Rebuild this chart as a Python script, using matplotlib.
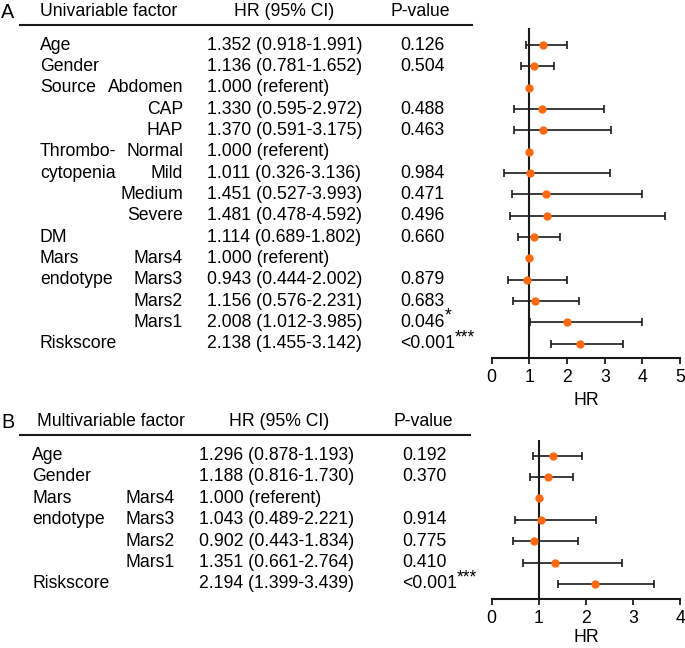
import matplotlib.pyplot as plt
import numpy as np
from matplotlib.transforms import blended_transform_factory

plt.rcParams['font.family'] = ['Liberation Sans', 'DejaVu Sans']

# ---------------- panel A: univariable ----------------
a_groups = ['Age', 'Gender', 'Source', '', '', 'Thrombo-', 'cytopenia', '', '',
            'DM', 'Mars', 'endotype', '', '', 'Riskscore']
a_levels = ['', '', 'Abdomen', 'CAP', 'HAP', 'Normal', 'Mild', 'Medium', 'Severe',
            '', 'Mars4', 'Mars3', 'Mars2', 'Mars1', '']
a_hr_text = ['1.352 (0.918-1.991)', '1.136 (0.781-1.652)', '1.000 (referent)',
             '1.330 (0.595-2.972)', '1.370 (0.591-3.175)', '1.000 (referent)',
             '1.011 (0.326-3.136)', '1.451 (0.527-3.993)', '1.481 (0.478-4.592)',
             '1.114 (0.689-1.802)', '1.000 (referent)', '0.943 (0.444-2.002)',
             '1.156 (0.576-2.231)', '2.008 (1.012-3.985)', '2.138 (1.455-3.142)']
a_p_text = ['0.126', '0.504', '', '0.488', '0.463', '', '0.984', '0.471', '0.496',
            '0.660', '', '0.879', '0.683', '0.046', '<0.001']
a_stars = ['', '', '', '', '', '', '', '', '', '', '', '', '', '*', '***']
# values as drawn in the forest plot
a_hr = [1.352, 1.136, 1.000, 1.330, 1.370, 1.000, 1.011, 1.451, 1.481, 1.114,
        1.000, 0.943, 1.156, 2.008, 2.345]
a_lo = [0.918, 0.781, np.nan, 0.595, 0.591, np.nan, 0.326, 0.527, 0.478, 0.689,
        np.nan, 0.444, 0.576, 1.012, 1.58]
a_hi = [1.991, 1.652, np.nan, 2.972, 3.175, np.nan, 3.136, 3.993, 4.592, 1.802,
        np.nan, 2.002, 2.32, 3.985, 3.48]
a_ticks = [0, 1, 2, 3, 4, 5]

# ---------------- panel B: multivariable ----------------
b_groups = ['Age', 'Gender', 'Mars', 'endotype', '', '', 'Riskscore']
b_levels = ['', '', 'Mars4', 'Mars3', 'Mars2', 'Mars1', '']
b_hr_text = ['1.296 (0.878-1.193)', '1.188 (0.816-1.730)', '1.000 (referent)',
             '1.043 (0.489-2.221)', '0.902 (0.443-1.834)', '1.351 (0.661-2.764)',
             '2.194 (1.399-3.439)']
b_p_text = ['0.192', '0.370', '', '0.914', '0.775', '0.410', '<0.001']
b_stars = ['', '', '', '', '', '', '***']
b_hr = [1.296, 1.188, 1.000, 1.043, 0.902, 1.351, 2.194]
b_lo = [0.878, 0.816, np.nan, 0.489, 0.443, 0.661, 1.399]
b_hi = [1.92, 1.730, np.nan, 2.221, 1.834, 2.764, 3.439]
b_ticks = [0, 1, 2, 3, 4]

W, H = 685, 648
FS = 12.7
ORANGE = '#FF6A10'
DARK = '#1a1a1a'

fig = plt.figure(figsize=(W / 100, H / 100), dpi=100)
# overlay in pixel units for the table part
ax_t = fig.add_axes([0, 0, 1, 1])
ax_t.set_xlim(0, W)
ax_t.set_ylim(H, 0)
ax_t.axis('off')


def panel(letter, title, groups, levels, hr_text, p_text, stars, hr, lo, hi, ticks,
          box, ylim, head_y, x_head, x_group, x_level, level_ha, x_hr, x_p,
          x_head_hr, x_head_p, line_x1, labelpad):
    left, top, right, bottom = box
    ax = fig.add_axes([left / W, 1 - bottom / H, (right - left) / W, (bottom - top) / H])
    n = len(hr)
    y = np.arange(n)
    hr = np.array(hr)
    lo = np.array(lo)
    hi = np.array(hi)
    has_ci = ~np.isnan(lo)

    ax.axvline(1, color=DARK, lw=1.5, zorder=1)
    ax.errorbar(hr[has_ci], y[has_ci],
                xerr=[hr[has_ci] - lo[has_ci], hi[has_ci] - hr[has_ci]],
                fmt='none', ecolor=DARK, elinewidth=1.2, capsize=2.6, capthick=1.2,
                zorder=2)
    ax.plot(hr, y, 'o', color=ORANGE, ms=5, zorder=3)

    ax.set_xlim(ticks[0], ticks[-1])
    ax.set_ylim(*ylim)
    ax.set_xticks(ticks)
    ax.set_yticks([])
    for s in ['left', 'right', 'top']:
        ax.spines[s].set_visible(False)
    ax.spines['bottom'].set_linewidth(1.5)
    ax.spines['bottom'].set_color(DARK)
    ax.tick_params(axis='x', direction='out', length=4, width=1.3, color=DARK,
                   labelsize=FS, pad=4)
    ax.set_xlabel('HR', fontsize=FS, labelpad=labelpad)
    ax.patch.set_alpha(0)

    # table text: x in pixels, y in row units of the forest axes
    tr = blended_transform_factory(ax_t.transData, ax.transData)
    for i in range(n):
        ax_t.text(x_group, i, groups[i], transform=tr, fontsize=FS, va='center', ha='left')
        ax_t.text(x_level, i, levels[i], transform=tr, fontsize=FS, va='center', ha=level_ha)
        ax_t.text(x_hr, i, hr_text[i], transform=tr, fontsize=FS, va='center', ha='left')
        pt = ax_t.text(x_p, i, p_text[i], transform=tr, fontsize=FS, va='center', ha='left')
        if stars[i]:
            ax_t.annotate(stars[i], xy=(1, 0.35), xycoords=pt, fontsize=FS,
                          va='bottom', ha='left')

    # header
    ax_t.text(x_head, head_y, title, fontsize=FS, va='center', ha='left')
    ax_t.text(x_head_hr, head_y, 'HR (95% CI)', fontsize=FS, va='center', ha='center')
    ax_t.text(x_head_p, head_y, 'P-value', fontsize=FS, va='center', ha='center')
    ax_t.plot([20, line_x1], [head_y + 13, head_y + 13], color=DARK, lw=1.5)
    ax_t.text(1, head_y, letter, fontsize=FS + 1.5, va='center', ha='left')
    return ax


panel('A', 'Univariable factor', a_groups, a_levels, a_hr_text, a_p_text, a_stars,
      a_hr, a_lo, a_hi, a_ticks,
      box=(491.7, 28, 680, 358), ylim=(14.67, -0.8), head_y=12, x_head=40,
      x_group=40, x_level=183, level_ha='right', x_hr=207, x_p=400,
      x_head_hr=284, x_head_p=420, line_x1=472, labelpad=4)

panel('B', 'Multivariable factor', b_groups, b_levels, b_hr_text, b_p_text, b_stars,
      b_hr, b_lo, b_hi, b_ticks,
      box=(491.7, 440, 680, 599.3), ylim=(6.72, -0.73), head_y=422, x_head=37,
      x_group=32, x_level=126, level_ha='left', x_hr=199, x_p=402,
      x_head_hr=279, x_head_p=423, line_x1=470, labelpad=1)

fig.savefig('out.png', dpi=100)
